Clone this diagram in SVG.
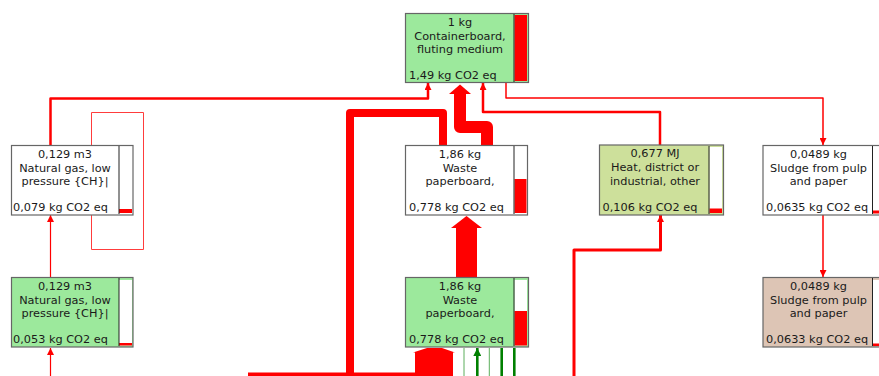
<svg xmlns="http://www.w3.org/2000/svg" width="879" height="376" viewBox="0 0 879 376">
  <defs>
    <style>
      .box { stroke: #666666; stroke-width: 1.2; }
      .green { fill: #9ce99c; }
      .olive { fill: #cde09b; }
      .tan { fill: #ddc5b5; }
      .white { fill: #ffffff; }
      .barbg { fill: #ffffff; }
      .barline { stroke: #222222; stroke-width: 1; }
      .lvl { fill: #ff0000; }
      .t { font-family: "DejaVu Sans", Verdana, sans-serif; font-size: 11.3px; fill: #1a1a1a; text-anchor: middle; }
      .v { font-family: "DejaVu Sans", Verdana, sans-serif; font-size: 11.3px; fill: #1a1a1a; }
      .flow { fill: none; stroke: #ff0000; stroke-linejoin: round; }
      .thin { fill: none; stroke: #ff3c3c; stroke-width: 1; }
      .gthin { stroke: #5cae5c; stroke-width: 1; }
      .gthick { stroke: #008000; stroke-width: 2.6; }
    </style>
    <marker id="arr" viewBox="0 0 8 8" refX="8" refY="4" markerWidth="7" markerHeight="7" orient="auto" markerUnits="userSpaceOnUse">
      <path d="M0,0 L8,4 L0,8 Z" fill="#ff0000"/>
    </marker>
    <marker id="arrG" viewBox="0 0 8 8" refX="8" refY="4" markerWidth="8" markerHeight="8" orient="auto" markerUnits="userSpaceOnUse">
      <path d="M0,0 L8,4 L0,8 Z" fill="#008000"/>
    </marker>
  </defs>

  <rect width="879" height="376" fill="#ffffff"/>

  <g id="connectors">
    <!-- natural gas (upper) into containerboard -->
    <path class="flow" stroke-width="2.5" d="M50.5,145 V98.5 H428 V83" marker-end="url(#arr)"/>
    <!-- heat into containerboard -->
    <path class="flow" stroke-width="2.5" d="M660,145 V112 H483 V83" marker-end="url(#arr)"/>
    <!-- containerboard to sludge -->
    <path class="flow" stroke-width="1.5" d="M506,83 V98 H823 V145" marker-end="url(#arr)"/>
    <!-- sludge to sludge treatment -->
    <path class="flow" stroke-width="1.5" d="M823,215 V277" marker-end="url(#arr)"/>
    <!-- natural gas chain -->
    <path class="flow" stroke-width="1.2" d="M50.5,277 V215" marker-end="url(#arr)"/>
    <path class="flow" stroke-width="1.2" d="M50.5,376 V348" marker-end="url(#arr)"/>
    <!-- natural gas loop -->
    <path class="thin" d="M91.5,215 V249.5 H143.5 V112.5 H91.5 V145"/>
    <!-- waste paperboard side branch going down -->
    <path class="flow" stroke-width="8" d="M443,145 V113 H350 V376"/>
    <!-- waste paperboard into containerboard -->
    <path class="flow" stroke-width="12" d="M487,145 V127 H460 V92"/>
    <polygon points="449,94 460,84.5 471,94" fill="#ff0000"/>
    <!-- waste paperboard (lower) into waste paperboard (upper) -->
    <rect x="456" y="226" width="21" height="51" fill="#ff0000"/>
    <polygon points="451,228 466.5,216 482,228" fill="#ff0000"/>
    <!-- inflow into waste paperboard (lower) -->
    <path d="M413,352.5 L427,348 L442,348 L455,352.5 L453,352.5 V376 H415 V352.5 Z" fill="#ff0000"/>
    <rect x="248" y="372.5" width="170" height="4" fill="#ff0000"/>
    <!-- heat supply -->
    <path class="flow" stroke-width="3" d="M574,376 V250 H660.5 V215" marker-end="url(#arr)"/>
    <!-- green inflows -->
    <line class="gthin" x1="464" y1="348" x2="464" y2="376"/>
    <line class="gthick" x1="477.3" y1="376" x2="477.3" y2="348" marker-end="url(#arrG)"/>
    <line class="gthin" x1="489.3" y1="348" x2="489.3" y2="376"/>
    <line class="gthick" x1="501.7" y1="348" x2="501.7" y2="376"/>
    <line class="gthick" x1="514.3" y1="348" x2="514.3" y2="376"/>
  </g>

  <g id="n-containerboard">
    <rect class="box green" x="405.5" y="13.5" width="123" height="69"/>
    <rect class="barbg" x="514.5" y="15" width="12.5" height="66"/>
    <rect class="lvl" x="514.5" y="15" width="12.5" height="66"/>
    <line class="barline" x1="514" y1="14" x2="514" y2="82"/>
    <text class="t" x="460" y="25.8">1 kg</text>
    <text class="t" x="460" y="39.5">Containerboard,</text>
    <text class="t" x="460" y="53">fluting medium</text>
    <text class="v" x="409" y="79">1,49 kg CO2 eq</text>
  </g>

  <g id="n-natgas-1">
    <rect class="box white" x="11.5" y="145.5" width="121.5" height="69.5"/>
    <rect class="lvl" x="119" y="209" width="13" height="4"/>
    <line class="barline" x1="119" y1="146" x2="119" y2="214"/>
    <text class="t" x="65" y="157.8">0,129 m3</text>
    <text class="t" x="65" y="171.5">Natural gas, low</text>
    <text class="t" x="65" y="185">pressure {CH}|</text>
    <text class="v" x="13" y="211">0,079 kg CO2 eq</text>
  </g>

  <g id="n-natgas-2">
    <rect class="box green" x="11.5" y="277.5" width="121.5" height="69.5"/>
    <rect class="barbg" x="119" y="280" width="13" height="65.5"/>
    <rect class="lvl" x="119" y="343" width="13" height="2.5"/>
    <line class="barline" x1="119" y1="278" x2="119" y2="346"/>
    <text class="t" x="65" y="289.8">0,129 m3</text>
    <text class="t" x="65" y="303.5">Natural gas, low</text>
    <text class="t" x="65" y="317">pressure {CH}|</text>
    <text class="v" x="13" y="343">0,053 kg CO2 eq</text>
  </g>

  <g id="n-waste-1">
    <rect class="box white" x="405.5" y="145.5" width="122" height="69.5"/>
    <rect class="lvl" x="514.5" y="179" width="12" height="34"/>
    <line class="barline" x1="514" y1="146" x2="514" y2="214"/>
    <text class="t" x="460" y="157.8">1,86 kg</text>
    <text class="t" x="460" y="171.5">Waste</text>
    <text class="t" x="460" y="185">paperboard,</text>
    <text class="v" x="409" y="211">0,778 kg CO2 eq</text>
  </g>

  <g id="n-waste-2">
    <rect class="box green" x="405.5" y="277.5" width="123" height="69.5"/>
    <rect class="barbg" x="514.5" y="280" width="12.5" height="65.5"/>
    <rect class="lvl" x="514.5" y="311" width="12.5" height="34.5"/>
    <line class="barline" x1="514" y1="278" x2="514" y2="346"/>
    <text class="t" x="460" y="289.8">1,86 kg</text>
    <text class="t" x="460" y="303.5">Waste</text>
    <text class="t" x="460" y="317">paperboard,</text>
    <text class="v" x="409" y="343">0,778 kg CO2 eq</text>
  </g>

  <g id="n-heat">
    <rect class="box olive" x="599.5" y="145" width="124" height="70"/>
    <rect class="barbg" x="709.5" y="147" width="12.5" height="66"/>
    <rect class="lvl" x="709.5" y="208.5" width="12.5" height="4.5"/>
    <line class="barline" x1="709" y1="146" x2="709" y2="214"/>
    <text class="t" x="655" y="157.3">0,677 MJ</text>
    <text class="t" x="655" y="171">Heat, district or</text>
    <text class="t" x="655" y="184.5">industrial, other</text>
    <text class="v" x="602.5" y="211">0,106 kg CO2 eq</text>
  </g>

  <g id="n-sludge-1">
    <rect class="box white" x="763" y="145.5" width="123" height="69.5"/>
    <rect class="lvl" x="873" y="210.5" width="13" height="3"/>
    <line class="barline" x1="872.5" y1="146" x2="872.5" y2="214"/>
    <text class="t" x="818.5" y="157.8">0,0489 kg</text>
    <text class="t" x="818.5" y="171.5">Sludge from pulp</text>
    <text class="t" x="818.5" y="185">and paper</text>
    <text class="v" x="766" y="211">0,0635 kg CO2 eq</text>
  </g>

  <g id="n-sludge-2">
    <rect class="box tan" x="763" y="277.5" width="123" height="69.5"/>
    <rect class="barbg" x="873" y="280" width="13" height="65.5"/>
    <rect class="lvl" x="873" y="343.5" width="13" height="2.5"/>
    <line class="barline" x1="872.5" y1="278" x2="872.5" y2="346"/>
    <text class="t" x="818.5" y="289.8">0,0489 kg</text>
    <text class="t" x="818.5" y="303.5">Sludge from pulp</text>
    <text class="t" x="818.5" y="317">and paper</text>
    <text class="v" x="766" y="343">0,0633 kg CO2 eq</text>
  </g>
</svg>
